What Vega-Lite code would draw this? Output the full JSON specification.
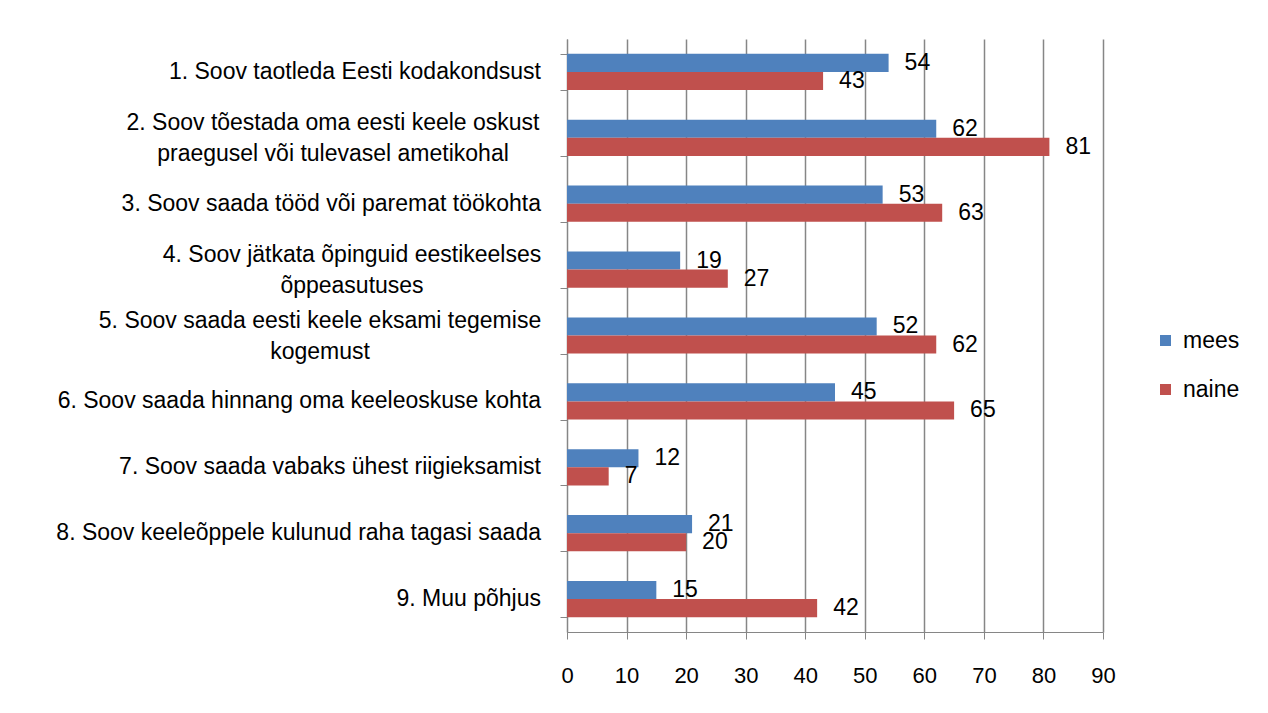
{
  "$schema": "https://vega.github.io/schema/vega-lite/v6.json",
  "width": 536,
  "height": 593,
  "autosize": {"type": "none"},
  "padding": {"left": 567, "top": 39, "right": 165, "bottom": 81},
  "background": "white",
  "config": {
    "font": "Liberation Sans",
    "view": {"stroke": null}
  },
  "data": {
    "values": [
      {"reason": "1. Soov taotleda Eesti kodakondsust", "sex": "mees", "value": 54},
      {"reason": "1. Soov taotleda Eesti kodakondsust", "sex": "naine", "value": 43},
      {"reason": "2. Soov tõestada oma eesti keele oskust|praegusel või tulevasel ametikohal", "sex": "mees", "value": 62},
      {"reason": "2. Soov tõestada oma eesti keele oskust|praegusel või tulevasel ametikohal", "sex": "naine", "value": 81},
      {"reason": "3. Soov saada tööd või paremat töökohta", "sex": "mees", "value": 53},
      {"reason": "3. Soov saada tööd või paremat töökohta", "sex": "naine", "value": 63},
      {"reason": "4. Soov jätkata õpinguid eestikeelses|õppeasutuses", "sex": "mees", "value": 19},
      {"reason": "4. Soov jätkata õpinguid eestikeelses|õppeasutuses", "sex": "naine", "value": 27},
      {"reason": "5. Soov saada eesti keele eksami tegemise|kogemust", "sex": "mees", "value": 52},
      {"reason": "5. Soov saada eesti keele eksami tegemise|kogemust", "sex": "naine", "value": 62},
      {"reason": "6. Soov saada hinnang oma keeleoskuse kohta", "sex": "mees", "value": 45},
      {"reason": "6. Soov saada hinnang oma keeleoskuse kohta", "sex": "naine", "value": 65},
      {"reason": "7. Soov saada vabaks ühest riigieksamist", "sex": "mees", "value": 12},
      {"reason": "7. Soov saada vabaks ühest riigieksamist", "sex": "naine", "value": 7},
      {"reason": "8. Soov keeleõppele kulunud raha tagasi saada", "sex": "mees", "value": 21},
      {"reason": "8. Soov keeleõppele kulunud raha tagasi saada", "sex": "naine", "value": 20},
      {"reason": "9. Muu põhjus", "sex": "mees", "value": 15},
      {"reason": "9. Muu põhjus", "sex": "naine", "value": 42}
    ]
  },
  "encoding": {
    "y": {
      "field": "reason",
      "type": "nominal",
      "sort": null,
      "title": null,
      "scale": {"paddingInner": 0.45, "paddingOuter": 0.225},
      "axis": {
        "labels": false,
        "tickBand": "extent",
        "tickSize": 7,
        "tickColor": "#868686",
        "domainColor": "#868686",
        "grid": false
      }
    },
    "x": {
      "field": "value",
      "type": "quantitative",
      "title": null,
      "scale": {"domain": [0, 90], "nice": false},
      "axis": {
        "values": [0, 10, 20, 30, 40, 50, 60, 70, 80, 90],
        "labelFontSize": 22,
        "labelColor": "black",
        "labelPadding": 26,
        "tickSize": 7,
        "tickColor": "#868686",
        "domainColor": "#868686",
        "gridColor": "#868686",
        "gridWidth": 1.5,
        "labelFlush": false
      }
    }
  },
  "layer": [
    {
      "mark": {"type": "bar"},
      "encoding": {
        "yOffset": {"field": "sex", "type": "nominal", "sort": ["mees", "naine"]},
        "color": {
          "field": "sex",
          "type": "nominal",
          "sort": ["mees", "naine"],
          "scale": {"domain": ["mees", "naine"], "range": ["#4F81BD", "#C0504D"]},
          "legend": {
            "title": null,
            "orient": "none",
            "legendX": 587,
            "legendY": 290,
            "symbolType": "square",
            "symbolSize": 121,
            "symbolStrokeWidth": 0,
            "labelFontSize": 23,
            "labelColor": "black",
            "labelOffset": 6,
            "rowPadding": 25,
            "padding": 0
          }
        }
      }
    },
    {
      "mark": {"type": "text", "align": "left", "baseline": "middle", "dx": 16, "fontSize": 23, "color": "black"},
      "encoding": {
        "yOffset": {"field": "sex", "type": "nominal", "sort": ["mees", "naine"]},
        "text": {"field": "value", "type": "quantitative"}
      }
    },
    {
      "transform": [{"filter": "datum.sex == 'mees' && indexof(datum.reason, '|') < 0"}],
      "mark": {"type": "text", "align": "right", "baseline": "middle", "dx": -26, "fontSize": 23, "color": "black"},
      "encoding": {
        "x": {"datum": 0, "type": "quantitative"},
        "text": {"field": "reason", "type": "nominal"}
      }
    },
    {
      "transform": [{"filter": "datum.sex == 'mees' && indexof(datum.reason, '2. ') == 0"}],
      "mark": {"type": "text", "align": "center", "baseline": "middle", "dx": -234, "dy": -15, "fontSize": 23, "lineBreak": "|", "lineHeight": 31, "color": "black"},
      "encoding": {
        "x": {"datum": 0, "type": "quantitative"},
        "text": {"field": "reason", "type": "nominal"}
      }
    },
    {
      "transform": [{"filter": "datum.sex == 'mees' && indexof(datum.reason, '4. ') == 0"}],
      "mark": {"type": "text", "align": "center", "baseline": "middle", "dx": -215, "dy": -15, "fontSize": 23, "lineBreak": "|", "lineHeight": 31, "color": "black"},
      "encoding": {
        "x": {"datum": 0, "type": "quantitative"},
        "text": {"field": "reason", "type": "nominal"}
      }
    },
    {
      "transform": [{"filter": "datum.sex == 'mees' && indexof(datum.reason, '5. ') == 0"}],
      "mark": {"type": "text", "align": "center", "baseline": "middle", "dx": -247, "dy": -15, "fontSize": 23, "lineBreak": "|", "lineHeight": 31, "color": "black"},
      "encoding": {
        "x": {"datum": 0, "type": "quantitative"},
        "text": {"field": "reason", "type": "nominal"}
      }
    }
  ]
}
